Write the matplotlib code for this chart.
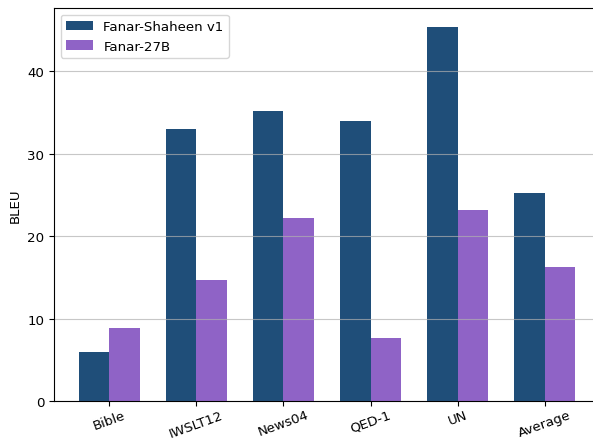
import numpy as np
import matplotlib.pyplot as plt

datasets = ['Bible', 'IWSLT12', 'News04', 'QED-1', 'UN', 'Average']
shaheen = [5.9, 33.0, 35.2, 34.0, 45.4, 25.2]
fanar27 = [8.9, 14.7, 22.2, 7.6, 23.2, 16.2]

plt.rcParams['font.size'] = 9.6

x = np.arange(len(datasets))
width = 0.35

fig = plt.figure(figsize=(5.93, 4.39), dpi=100)
# axes runs a little past the right edge, as in the cropped original
ax = fig.add_axes([54 / 593, 37 / 439, 546 / 593, 393 / 439])
ax.bar(x - width / 2, shaheen, width, label='Fanar-Shaheen v1', color='#1f4e79')
ax.bar(x + width / 2, fanar27, width, label='Fanar-27B', color='#8f63c6')

ax.set_ylabel('BLEU')
ax.set_xticks(x)
ax.set_xticklabels(datasets, rotation=20)
ax.tick_params(axis='x', pad=1.5)
ax.grid(axis='y', alpha=0.7)
ax.legend(loc='upper left')

plt.savefig('out.png', dpi=100)
